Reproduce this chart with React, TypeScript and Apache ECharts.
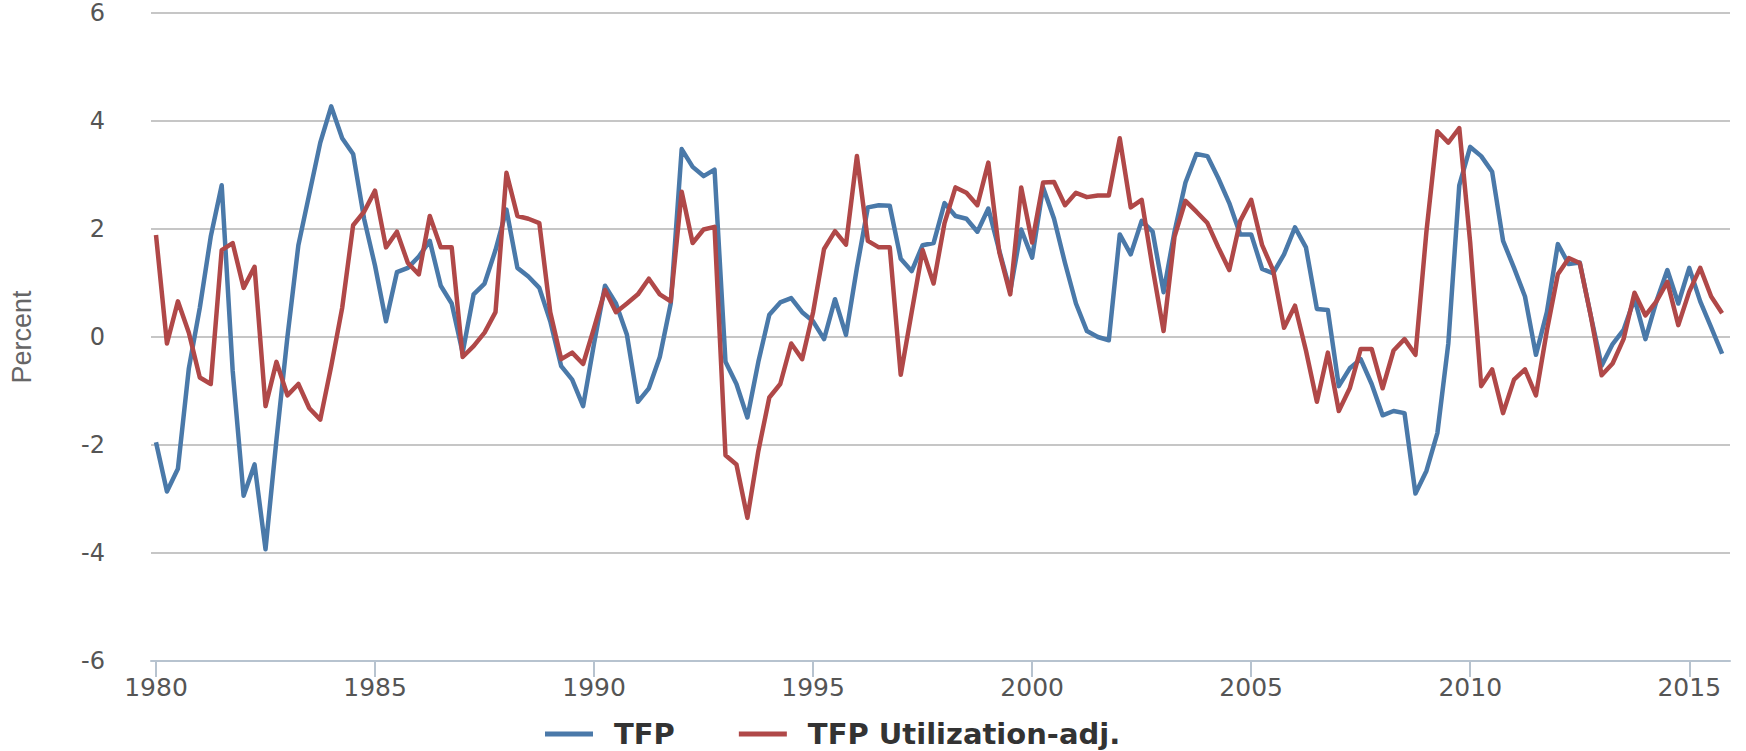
import React, { useEffect, useRef } from "react";
import * as echarts from "echarts";

const startYear = 1980;
const quarterStep = 0.25;

const tickYears = [1980, 1985, 1990, 1995, 2000, 2005, 2010, 2015];

const tfp = [
  -1.95, -2.86, -2.44, -0.58, 0.54, 1.86, 2.81, -0.62,
  -2.94, -2.36, -3.93, -1.9, 0.0, 1.7, 2.65, 3.6,
  4.27, 3.68, 3.39, 2.19, 1.32, 0.29, 1.2, 1.28,
  1.49, 1.78, 0.95, 0.62, -0.29, 0.79, 0.99, 1.61,
  2.36, 1.28, 1.12, 0.91, 0.29, -0.54, -0.79, -1.28,
  -0.12, 0.95, 0.62, 0.04, -1.2, -0.95, -0.37, 0.62,
  3.48, 3.15, 2.98, 3.1, -0.46, -0.87, -1.49, -0.46,
  0.41, 0.64, 0.72, 0.46, 0.29, -0.04, 0.7, 0.04,
  1.28, 2.4, 2.44, 2.43, 1.45, 1.22, 1.7, 1.74,
  2.48, 2.24, 2.19, 1.95, 2.38, 1.6, 0.85, 1.99,
  1.47, 2.77, 2.19, 1.37, 0.62, 0.11, 0.0, -0.06,
  1.9, 1.53, 2.15, 1.95, 0.83, 1.95, 2.86, 3.39,
  3.35, 2.94, 2.48, 1.9, 1.9, 1.26, 1.18, 1.53,
  2.03, 1.66, 0.52, 0.5, -0.91, -0.58, -0.41, -0.87,
  -1.45, -1.37, -1.41, -2.9, -2.48, -1.78, -0.12, 2.81,
  3.52, 3.35, 3.06, 1.78, 1.28, 0.75, -0.33, 0.46,
  1.72, 1.35, 1.38, 0.4, -0.53, -0.13, 0.13, 0.71,
  -0.04, 0.66, 1.24, 0.62, 1.28, 0.66, 0.18, -0.31,
];

const tfpUtil = [
  1.89, -0.12, 0.66, 0.08, -0.75, -0.87, 1.61, 1.74,
  0.91, 1.3, -1.28, -0.46, -1.08, -0.87, -1.32, -1.53,
  -0.54, 0.54, 2.07, 2.32, 2.71, 1.66, 1.95, 1.37,
  1.16, 2.24, 1.66, 1.66, -0.37, -0.17, 0.08, 0.46,
  3.04, 2.24, 2.19, 2.11, 0.46, -0.41, -0.29, -0.5,
  0.17, 0.87, 0.46, 0.62, 0.79, 1.08, 0.79, 0.66,
  2.69, 1.74, 1.99, 2.04, -2.19, -2.36, -3.35, -2.11,
  -1.12, -0.87, -0.12, -0.41, 0.46, 1.63, 1.96, 1.71,
  3.35, 1.78, 1.66, 1.66, -0.7, 0.46, 1.61, 0.99,
  2.11, 2.77, 2.67, 2.44, 3.23, 1.57, 0.79, 2.77,
  1.75, 2.86, 2.87, 2.44, 2.67, 2.59, 2.62, 2.62,
  3.68, 2.4, 2.54, 1.28, 0.11, 1.86, 2.52, 2.32,
  2.11, 1.66, 1.24, 2.15, 2.54, 1.7, 1.24, 0.17,
  0.58, -0.25, -1.2, -0.29, -1.37, -0.95, -0.22, -0.22,
  -0.95, -0.25, -0.04, -0.33, 1.95, 3.81, 3.6, 3.87,
  1.74, -0.91, -0.6, -1.41, -0.79, -0.6, -1.08, 0.12,
  1.16, 1.46, 1.37, 0.4, -0.71, -0.49, -0.04, 0.82,
  0.4, 0.66, 1.02, 0.22, 0.84, 1.28, 0.75, 0.44,
];

const seriesNames = ["TFP", "TFP Utilization-adj."];

const toPairs = (vals: number[]) =>
  vals.map((v, i) => [startYear + i * quarterStep, v]);

export default function App() {
  const ref = useRef<HTMLDivElement>(null);

  useEffect(() => {
    if (!ref.current) return;
    const chart = echarts.init(ref.current, null, { renderer: "svg" });
    const font = "DejaVu Sans, Verdana, sans-serif";
    chart.setOption({
      animation: false,
      backgroundColor: "#ffffff",
      grid: { left: 148, right: 16, top: 13, bottom: 90, containLabel: false },
      legend: {
        left: 545,
        top: 719,
        padding: 0,
        icon: "rect",
        itemWidth: 48,
        itemHeight: 5,
        itemGap: 64,
        data: seriesNames,
        textStyle: {
          fontFamily: font,
          fontSize: 29,
          lineHeight: 30,
          fontWeight: "bold",
          color: "#333333",
          padding: [0, 0, 0, 16],
        },
      },
      xAxis: {
        type: "value",
        min: 1979.886,
        max: 2015.93,
        splitLine: { show: false },
        axisLine: {
          show: true,
          onZero: false,
          lineStyle: { color: "#b7c3cf", width: 2 },
        },
        axisTick: {
          show: true,
          customValues: tickYears,
          length: 16,
          lineStyle: { color: "#b7c3cf", width: 2 },
        },
        axisLabel: {
          customValues: tickYears,
          formatter: (v: number) => String(Math.round(v)),
          fontFamily: font,
          fontSize: 25,
          color: "#555555",
          margin: 14,
        },
      },
      yAxis: {
        type: "value",
        min: -6,
        max: 6,
        interval: 2,
        name: "Percent",
        nameLocation: "middle",
        nameRotate: 90,
        nameGap: 116,
        nameTextStyle: {
          fontFamily: "Liberation Sans, Arial, sans-serif",
          fontSize: 27,
          color: "#666666",
        },
        axisLine: { show: false },
        axisTick: { show: false },
        splitLine: { show: true, lineStyle: { color: "#b3b3b3", width: 1.5 } },
        axisLabel: {
          fontFamily: font,
          fontSize: 24,
          color: "#555555",
          margin: 46,
        },
      },
      series: [
        {
          name: seriesNames[0],
          type: "line",
          data: toPairs(tfp),
          showSymbol: false,
          color: "#4a79a9",
          lineStyle: { width: 4.5, color: "#4a79a9", join: "round" },
          z: 2,
        },
        {
          name: seriesNames[1],
          type: "line",
          data: toPairs(tfpUtil),
          showSymbol: false,
          color: "#b04848",
          lineStyle: { width: 4.5, color: "#b04848", join: "round" },
          z: 3,
        },
      ],
    });
    return () => chart.dispose();
  }, []);

  return (
    <div
      ref={ref}
      style={{ position: "fixed", left: 0, top: 0, width: 1746, height: 751 }}
    />
  );
}
